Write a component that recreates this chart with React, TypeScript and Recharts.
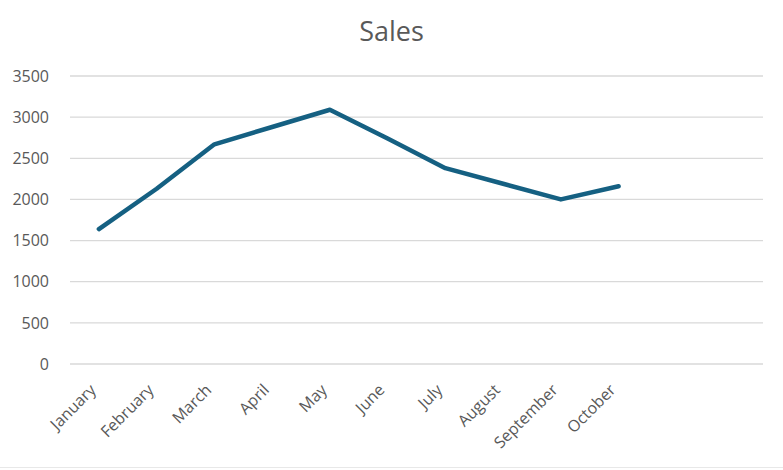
import React from 'react';
import { LineChart, Line, XAxis, YAxis, CartesianGrid } from 'recharts';

const months = [
  'January', 'February', 'March', 'April', 'May', 'June',
  'July', 'August', 'September', 'October', 'November', 'December',
];
const sales: (number | null)[] = [1640, 2130, 2670, 2880, 3090, 2740, 2380, 2190, 2000, 2160, null, null];
const yTicks = [0, 500, 1000, 1500, 2000, 2500, 3000, 3500];

const data = months.map((m, i) => ({ month: m, sales: sales[i] }));

const FONT = '"Open Sans", sans-serif';
const GREY = '#595959';

const MonthTick = (props: any) => {
  const { x, y, payload, index } = props;
  // months without a value get no label, like the source sheet
  if (sales[index] == null) return null;
  return (
    <g transform={`translate(${x - 2},${y + 19})`}>
      <text
        transform="rotate(-45)"
        textAnchor="end"
        fill={GREY}
        fontSize={16}
        fontFamily={FONT}
      >
        {payload.value}
      </text>
    </g>
  );
};

const App: React.FC = () => {
  return (
    <div style={{ position: 'absolute', left: 0, top: 0, width: 783, height: 470, background: '#fff' }}>
      <div
        style={{
          position: 'absolute',
          left: 0,
          width: 783,
          top: 12,
          textAlign: 'center',
          fontFamily: FONT,
          fontSize: 27,
          color: GREY,
        }}
      >
        Sales
      </div>
      <LineChart width={783} height={470} data={data} margin={{ top: 76, right: 20, bottom: 0, left: 0 }}>
        <CartesianGrid vertical={false} stroke="#d9d9d9" strokeWidth={1.3} />
        <XAxis
          dataKey="month"
          axisLine={false}
          tickLine={false}
          interval={0}
          height={106}
          padding={{ left: 28.9, right: 28.9 }}
          tick={<MonthTick />}
        />
        <YAxis
          width={70}
          domain={[0, 3500]}
          ticks={yTicks}
          axisLine={false}
          tickLine={false}
          tickMargin={15}
          tick={{ fill: GREY, fontSize: 16, fontFamily: FONT }}
        />
        <Line
          dataKey="sales"
          stroke="#156082"
          strokeWidth={4.5}
          strokeLinecap="round"
          strokeLinejoin="round"
          dot={false}
          activeDot={false}
          isAnimationActive={false}
        />
      </LineChart>
      <div style={{ position: 'absolute', left: 0, top: 467, width: 783, height: 1, background: '#e8e8e8' }} />
    </div>
  );
};

export default App;
